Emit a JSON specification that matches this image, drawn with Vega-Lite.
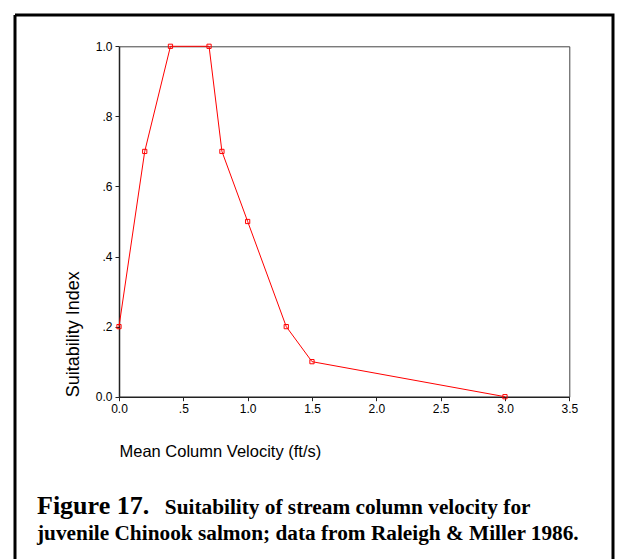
{
  "$schema": "https://vega.github.io/schema/vega-lite/v6.json",
  "width": 598,
  "height": 544,
  "autosize": {"type": "none"},
  "padding": {"left": 15, "top": 15, "right": 5, "bottom": 0},
  "background": "white",
  "view": {"stroke": "#000000", "strokeWidth": 3, "strokeDash": [1142, 598, 544, 0], "fill": "white"},
  "title": {
    "text": "Figure 17.",
    "subtitle": ["\u200b\u00a0\u00a0\u00a0\u00a0\u00a0\u00a0\u00a0\u00a0\u00a0\u00a0\u00a0\u00a0\u00a0\u00a0\u00a0\u00a0\u00a0\u00a0\u00a0\u00a0\u00a0\u00a0\u00a0\u00a0Suitability of stream column velocity for", "juvenile Chinook salmon; data from Raleigh & Miller 1986."],
    "orient": "bottom",
    "anchor": "start",
    "frame": "group",
    "offset": -66,
    "dx": 22,
    "font": "Liberation Serif",
    "fontSize": 26,
    "fontWeight": "bold",
    "color": "#000000",
    "subtitleFont": "Liberation Serif",
    "subtitleFontSize": 21.3,
    "subtitleFontWeight": "bold",
    "subtitleColor": "#000000",
    "subtitlePadding": -22,
    "subtitleLineHeight": 26
  },
  "data": {
    "values": [
      {"velocity": 0.0, "suitability": 0.2},
      {"velocity": 0.2, "suitability": 0.7},
      {"velocity": 0.4, "suitability": 1.0},
      {"velocity": 0.7, "suitability": 1.0},
      {"velocity": 0.8, "suitability": 0.7},
      {"velocity": 1.0, "suitability": 0.5},
      {"velocity": 1.3, "suitability": 0.2},
      {"velocity": 1.5, "suitability": 0.1},
      {"velocity": 3.0, "suitability": 0.0}
    ]
  },
  "layer": [
    {
      "mark": {"type": "line", "color": "#ff0000", "strokeWidth": 1},
      "encoding": {
        "x": {
          "field": "velocity", "type": "quantitative",
          "scale": {"domain": [0, 3.5], "range": [104, 554.3], "nice": false, "zero": false},
          "axis": {
            "orient": "bottom", "offset": -162.3, "values": [0, 0.5, 1, 1.5, 2, 2.5, 3, 3.5],
            "labelExpr": "datum.value == 0.5 ? '.5' : format(datum.value, '.1f')",
            "labelFlush": false, "labelOverlap": false,
            "grid": false, "domainColor": "#222222", "domainWidth": 1.5,
            "tickColor": "#222222", "tickSize": 4, "tickWidth": 1,
            "labelFont": "Liberation Sans", "labelFontSize": 12, "labelColor": "#000000", "labelPadding": 3,
            "title": "Mean Column Velocity (ft/s)", "titleFont": "Liberation Sans", "titleFontSize": 16.5,
            "titleFontWeight": "normal", "titleColor": "#000000", "titleAnchor": "start", "titlePadding": 29
          }
        },
        "y": {
          "field": "suitability", "type": "quantitative",
          "scale": {"domain": [0, 1], "range": [381.7, 31.3], "nice": false, "zero": false},
          "axis": {
            "orient": "left", "offset": -104, "values": [0, 0.2, 0.4, 0.6, 0.8, 1.0],
            "labelExpr": "datum.value == 0 ? '0.0' : datum.value == 1 ? '1.0' : replace(format(datum.value, '.1f'), '0.', '.')",
            "labelFlush": false, "labelOverlap": false,
            "grid": false, "domainColor": "#222222", "domainWidth": 1.5,
            "tickColor": "#222222", "tickSize": 4, "tickWidth": 1,
            "labelFont": "Liberation Sans", "labelFontSize": 12, "labelColor": "#000000", "labelPadding": 3,
            "title": "Suitability Index", "titleFont": "Liberation Sans", "titleFontSize": 18,
            "titleFontWeight": "normal", "titleColor": "#000000", "titleAnchor": "start", "titlePadding": 13
          }
        }
      }
    },
    {
      "mark": {"type": "point", "shape": "square", "filled": false, "color": "#ff0000", "size": 18, "strokeWidth": 1, "opacity": 1},
      "encoding": {
        "x": {
          "field": "velocity", "type": "quantitative",
          "axis": {"orient": "top", "offset": -31.3, "labels": false, "ticks": false, "title": null, "grid": false, "domainColor": "#444444", "domainWidth": 1}
        },
        "y": {
          "field": "suitability", "type": "quantitative",
          "axis": {"orient": "right", "offset": -43.7, "labels": false, "ticks": false, "title": null, "grid": false, "domainColor": "#444444", "domainWidth": 1}
        }
      }
    }
  ],
  "resolve": {"axis": {"x": "independent", "y": "independent"}}
}
